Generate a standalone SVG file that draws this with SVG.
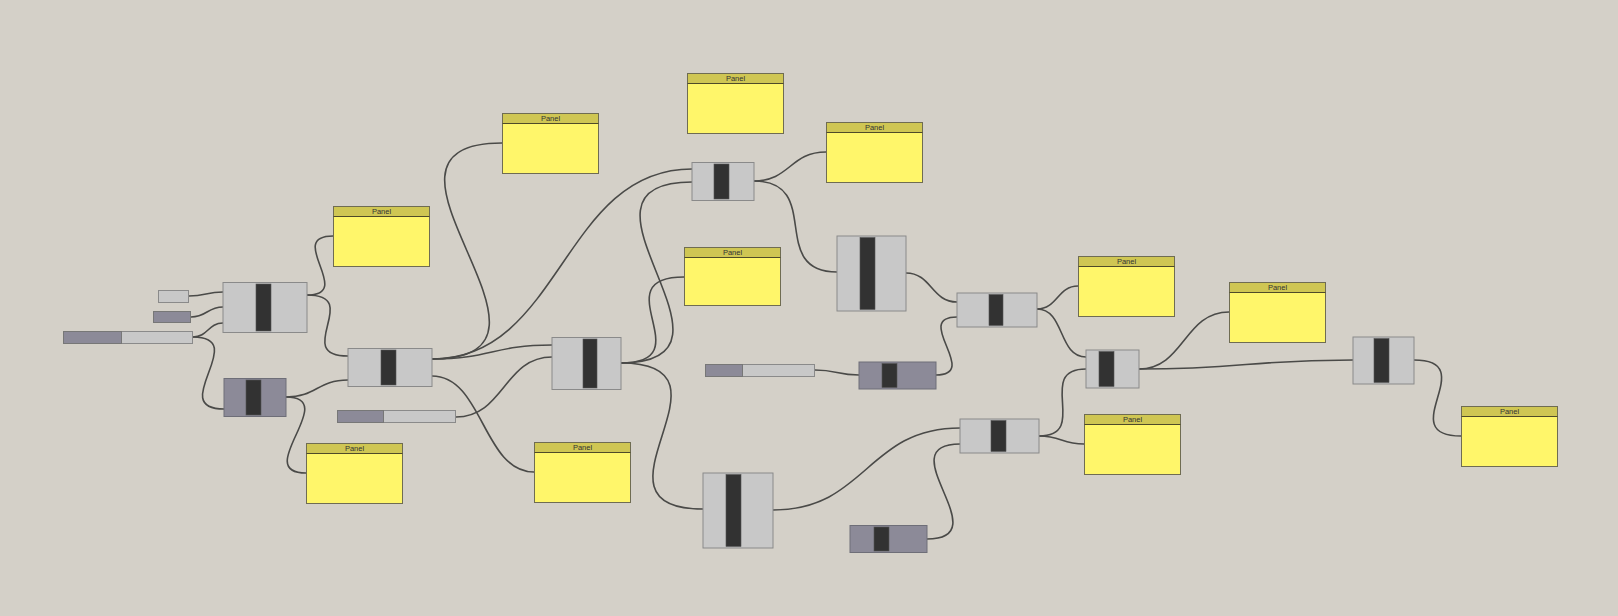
<svg xmlns="http://www.w3.org/2000/svg" width="1618" height="616" viewBox="0 0 1618 616">
<defs>
<linearGradient id="pg" x1="0" y1="0" x2="0" y2="1">
<stop offset="0" stop-color="#e2d850"/>
<stop offset="0.08" stop-color="#fff66a"/>
<stop offset="1" stop-color="#fff66a"/>
</linearGradient>
<style>
.bg{fill:#d4d0c8}
.w{fill:none;stroke:#4a4a48;stroke-width:1.6}
.c{fill:#c8c8c8;stroke:#8a8a8a;stroke-width:1}
.d{fill:#8c8a98;stroke:#6e6e78;stroke-width:1}
.bar{fill:#323232;stroke:#555;stroke-width:0.6}
.pb{fill:url(#pg);stroke:#6f6c52;stroke-width:1}
.ph{fill:#cfc653;stroke:#6f6c52;stroke-width:1}
.pl{stroke:#4e4a28;stroke-width:1}
.pt{font-family:"Liberation Sans",Arial,sans-serif;font-size:7.5px;fill:#333;text-anchor:middle}
.sd{fill:#8c8a98;stroke:#777;stroke-width:1}
.sl{fill:#c8c8c8;stroke:#8a8a8a;stroke-width:1}
</style>
</defs>
<rect class="bg" x="0" y="0" width="1618" height="616"/>
<g id="connectors">
<path class="w" d="M189 296 C206 296 206 292 223 292"/>
<path class="w" d="M191 317 C207 317 207 307 223 307"/>
<path class="w" d="M193 337 C208 337 208 323 223 323"/>
<path class="w" d="M193 337 C251.7 337 165.3 409 224 409"/>
<path class="w" d="M307 295 C355.4 295 284.6 236 333 236"/>
<path class="w" d="M307 295 C364.1 295 290.9 356 348 356"/>
<path class="w" d="M286 397 C317 397 317 380 348 380"/>
<path class="w" d="M286 397 C341.6 397 250.4 473 306 473"/>
<path class="w" d="M432 359 C596.6 359 337.4 143 502 143"/>
<path class="w" d="M432 359 C562 359 562 169 692 169"/>
<path class="w" d="M432 359 C492 359 492 345 552 345"/>
<path class="w" d="M432 376 C483 376 483 472 534 472"/>
<path class="w" d="M456 417 C504 417 504 357 552 357"/>
<path class="w" d="M621 363 C704.1 363 600.9 277 684 277"/>
<path class="w" d="M621 363 C765.1 363 547.9 182 692 182"/>
<path class="w" d="M621 363 C749.6 363 574.4 509 703 509"/>
<path class="w" d="M754 181 C790 181 790 152 826 152"/>
<path class="w" d="M754 181 C824 181 767 272 837 272"/>
<path class="w" d="M906 273 C931.5 273 931.5 302 957 302"/>
<path class="w" d="M815 370 C837 370 837 375 859 375"/>
<path class="w" d="M936 375 C981.3 375 911.7 317 957 317"/>
<path class="w" d="M1037 309 C1057.5 309 1057.5 286 1078 286"/>
<path class="w" d="M1037 309 C1065 309 1058 357 1086 357"/>
<path class="w" d="M773 510 C866.5 510 866.5 428 960 428"/>
<path class="w" d="M927 539 C1000.5 539 886.5 444 960 444"/>
<path class="w" d="M1039 436 C1091 436 1034 369 1086 369"/>
<path class="w" d="M1039 436 C1061.5 436 1061.5 444 1084 444"/>
<path class="w" d="M1139 369 C1184 369 1184 312 1229 312"/>
<path class="w" d="M1139 369 C1246 369 1246 360 1353 360"/>
<path class="w" d="M1414 360 C1483.1 360 1391.9 436 1461 436"/>
</g>
<g id="n1"><rect class="sl" x="158.5" y="290.5" width="30" height="12"/></g>
<g id="n2"><rect class="sd" x="153.5" y="311.5" width="37" height="11"/></g>
<g id="s1"><rect class="sl" x="63.5" y="331.5" width="129" height="12"/><rect class="sd" x="63.5" y="331.5" width="58" height="12"/></g>
<g id="s2"><rect class="sl" x="705.5" y="364.5" width="109" height="12"/><rect class="sd" x="705.5" y="364.5" width="37" height="12"/></g>
<g id="s3"><rect class="sl" x="337.5" y="410.5" width="118" height="12"/><rect class="sd" x="337.5" y="410.5" width="46" height="12"/></g>
<g id="cA"><rect class="c" x="223" y="282.5" width="84" height="50"/><rect class="bar" x="256" y="284" width="15" height="47"/></g>
<g id="cB"><rect class="d" x="224" y="378.5" width="62" height="38"/><rect class="bar" x="246" y="380" width="15" height="35"/></g>
<g id="cC"><rect class="c" x="348" y="348.5" width="84" height="38"/><rect class="bar" x="381" y="350" width="15" height="35"/></g>
<g id="cD"><rect class="c" x="552" y="337.5" width="69" height="52"/><rect class="bar" x="583" y="339" width="14" height="49"/></g>
<g id="cE"><rect class="c" x="692" y="162.5" width="62" height="38"/><rect class="bar" x="714" y="164" width="15" height="35"/></g>
<g id="cM"><rect class="c" x="837" y="236" width="69" height="75"/><rect class="bar" x="860" y="237.5" width="15" height="72"/></g>
<g id="cG"><rect class="c" x="703" y="473" width="70" height="75"/><rect class="bar" x="726" y="474.5" width="15" height="72"/></g>
<g id="cF"><rect class="d" x="859" y="362" width="77" height="27"/><rect class="bar" x="882" y="363.5" width="15" height="24"/></g>
<g id="cH"><rect class="d" x="850" y="525.5" width="77" height="27"/><rect class="bar" x="874" y="527" width="15" height="24"/></g>
<g id="cJ"><rect class="c" x="957" y="293" width="80" height="34"/><rect class="bar" x="989" y="294.5" width="14" height="31"/></g>
<g id="cK"><rect class="c" x="1086" y="350" width="53" height="38"/><rect class="bar" x="1099" y="351.5" width="15" height="35"/></g>
<g id="cI"><rect class="c" x="960" y="419" width="79" height="34"/><rect class="bar" x="991" y="420.5" width="15" height="31"/></g>
<g id="cL"><rect class="c" x="1353" y="337" width="61" height="47"/><rect class="bar" x="1374" y="338.5" width="15" height="44"/></g>
<g id="pAL"><rect class="pb" x="333.5" y="206.5" width="96" height="60"/><rect class="ph" x="333.5" y="206.5" width="96" height="10"/><line class="pl" x1="333.5" y1="216.5" x2="429.5" y2="216.5"/><text class="pt" x="381.5" y="214">Panel</text></g>
<g id="pTL"><rect class="pb" x="502.5" y="113.5" width="96" height="60"/><rect class="ph" x="502.5" y="113.5" width="96" height="10"/><line class="pl" x1="502.5" y1="123.5" x2="598.5" y2="123.5"/><text class="pt" x="550.5" y="121">Panel</text></g>
<g id="pT"><rect class="pb" x="687.5" y="73.5" width="96" height="60"/><rect class="ph" x="687.5" y="73.5" width="96" height="10"/><line class="pl" x1="687.5" y1="83.5" x2="783.5" y2="83.5"/><text class="pt" x="735.5" y="81">Panel</text></g>
<g id="p3"><rect class="pb" x="826.5" y="122.5" width="96" height="60"/><rect class="ph" x="826.5" y="122.5" width="96" height="10"/><line class="pl" x1="826.5" y1="132.5" x2="922.5" y2="132.5"/><text class="pt" x="874.5" y="130">Panel</text></g>
<g id="pMid"><rect class="pb" x="684.5" y="247.5" width="96" height="58"/><rect class="ph" x="684.5" y="247.5" width="96" height="10"/><line class="pl" x1="684.5" y1="257.5" x2="780.5" y2="257.5"/><text class="pt" x="732.5" y="255">Panel</text></g>
<g id="pBL"><rect class="pb" x="306.5" y="443.5" width="96" height="60"/><rect class="ph" x="306.5" y="443.5" width="96" height="10"/><line class="pl" x1="306.5" y1="453.5" x2="402.5" y2="453.5"/><text class="pt" x="354.5" y="451">Panel</text></g>
<g id="pBC"><rect class="pb" x="534.5" y="442.5" width="96" height="60"/><rect class="ph" x="534.5" y="442.5" width="96" height="10"/><line class="pl" x1="534.5" y1="452.5" x2="630.5" y2="452.5"/><text class="pt" x="582.5" y="450">Panel</text></g>
<g id="pJ"><rect class="pb" x="1078.5" y="256.5" width="96" height="60"/><rect class="ph" x="1078.5" y="256.5" width="96" height="10"/><line class="pl" x1="1078.5" y1="266.5" x2="1174.5" y2="266.5"/><text class="pt" x="1126.5" y="264">Panel</text></g>
<g id="pK"><rect class="pb" x="1229.5" y="282.5" width="96" height="60"/><rect class="ph" x="1229.5" y="282.5" width="96" height="10"/><line class="pl" x1="1229.5" y1="292.5" x2="1325.5" y2="292.5"/><text class="pt" x="1277.5" y="290">Panel</text></g>
<g id="pI"><rect class="pb" x="1084.5" y="414.5" width="96" height="60"/><rect class="ph" x="1084.5" y="414.5" width="96" height="10"/><line class="pl" x1="1084.5" y1="424.5" x2="1180.5" y2="424.5"/><text class="pt" x="1132.5" y="422">Panel</text></g>
<g id="pL"><rect class="pb" x="1461.5" y="406.5" width="96" height="60"/><rect class="ph" x="1461.5" y="406.5" width="96" height="10"/><line class="pl" x1="1461.5" y1="416.5" x2="1557.5" y2="416.5"/><text class="pt" x="1509.5" y="414">Panel</text></g>
</svg>
